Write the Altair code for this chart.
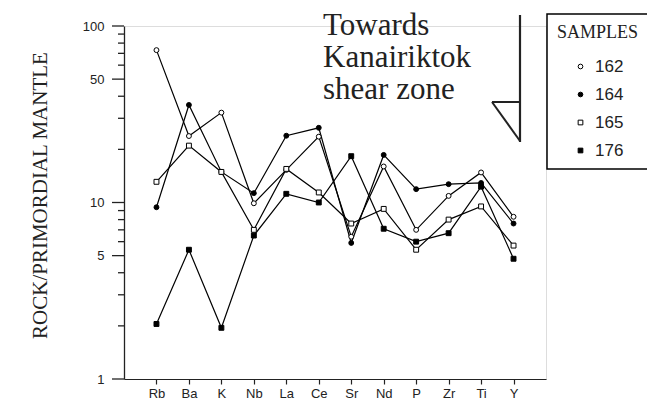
import altair as alt
import pandas as pd

elements = ["Rb", "Ba", "K", "Nb", "La", "Ce", "Sr", "Nd", "P", "Zr", "Ti", "Y"]
samples = ["162", "164", "165", "176"]
s162 = [73, 23.8, 32.3, 9.9, 15.3, 23.6, 6.4, 16.0, 7.0, 10.9, 14.8, 8.3]
s164 = [9.4, 35.7, 14.9, 11.3, 23.9, 26.5, 5.9, 18.6, 11.9, 12.7, 12.9, 7.6]
s165 = [13.1, 21.0, 14.9, 7.0, 15.5, 11.4, 7.6, 9.2, 5.4, 8.0, 9.5, 5.7]
s176 = [2.05, 5.4, 1.95, 6.5, 11.2, 10.0, 18.3, 7.1, 6.0, 6.7, 12.3, 4.8]
y_labeled = [1, 5, 10, 50, 100]
y_minor = [2, 3, 4, 6, 7, 8, 9, 20, 30, 40, 60, 70, 80, 90]
annotation = "Towards\nKanairiktok\nshear zone"

rows = []
for s, vals in zip(samples, [s162, s164, s165, s176]):
    for i, (e, v) in enumerate(zip(elements, vals)):
        rows.append({"sample": s, "element": e, "idx": i, "value": v})
df = pd.DataFrame(rows)

x = alt.X(
    "element:N", sort=elements,
    scale=alt.Scale(type="point", padding=1),
    axis=alt.Axis(title=None, labelAngle=0, labelFont="Liberation Sans", labelFontSize=13,
                  labelColor="#222", tickSize=5, tickColor="#222", domainColor="#222",
                  labelPadding=3, domainWidth=1.2, tickWidth=1.2, grid=False),
)
yscale = alt.Scale(type="log", domain=[1, 100], nice=False)
y = alt.Y(
    "value:Q", scale=yscale,
    axis=alt.Axis(
        values=y_labeled, format="d", grid=False, ticks=False,
        labelPadding=20, labelFont="Liberation Sans", labelFontSize=13,
        labelColor="#222", domainColor="#222", domainWidth=1.3,
        title="ROCK/PRIMORDIAL MANTLE", titleFont="Liberation Serif", titleFontSize=21,
        titleFontWeight="normal", titleColor="#222", titleAngle=-90,
        titleX=-84, titleY=169, titleAlign="center", titleBaseline="middle",
    ),
)

leg = alt.Legend(
    title="SAMPLES", orient="none", legendX=423, legendY=-12,
    titleFont="Liberation Serif", titleFontSize=18, titleFontWeight="normal", titleColor="#222",
    titlePadding=16, labelFont="Liberation Sans", labelFontSize=17, labelColor="#222",
    symbolSize=22, symbolStrokeWidth=1,
    symbolOffset=15, labelOffset=6, rowPadding=10,
    strokeColor="black", fillColor="white", padding=10,
)

lines = alt.Chart(df).mark_line(color="black", strokeWidth=1.2).encode(
    x=x, y=y, detail="sample:N", order="idx:Q"
)
points = alt.Chart(df).mark_point(filled=True, strokeWidth=1, size=24, opacity=1).encode(
    x=x, y=y,
    shape=alt.Shape("sample:N", scale=alt.Scale(domain=samples, range=["circle", "circle", "square", "square"]), legend=leg),
    fill=alt.Fill("sample:N", scale=alt.Scale(domain=samples, range=["white", "black", "white", "black"]), legend=leg),
    stroke=alt.Stroke("sample:N", scale=alt.Scale(domain=samples, range=["black", "black", "black", "black"]), legend=leg),
)

# major ticks (long) and minor ticks (short), left of the axis line
major_ticks = alt.Chart(pd.DataFrame({"v": y_labeled})).mark_rule(color="#222", strokeWidth=1.3).encode(
    y=alt.Y("v:Q", scale=yscale), x=alt.value(-12), x2=alt.value(0)
)
minor_ticks = alt.Chart(pd.DataFrame({"v": y_minor})).mark_rule(color="#222", strokeWidth=1.3).encode(
    y=alt.Y("v:Q", scale=yscale), x=alt.value(-6), x2=alt.value(0)
)

one = pd.DataFrame({"t": [annotation]})
text = alt.Chart(one).mark_text(
    align="left", baseline="alphabetic", lineBreak="\n", lineHeight=32,
    font="Liberation Serif", fontSize=31, color="#222"
).encode(text="t:N", x=alt.value(199), y=alt.value(9))

r1 = alt.Chart(one).mark_rule(color="#222", strokeWidth=2.2).encode(
    x=alt.value(396), y=alt.value(-11), y2=alt.value(116))
r2 = alt.Chart(one).mark_rule(color="#222", strokeWidth=2).encode(
    x=alt.value(368), x2=alt.value(396), y=alt.value(76))
r3 = alt.Chart(one).mark_rule(color="#222", strokeWidth=2).encode(
    x=alt.value(368), x2=alt.value(396), y=alt.value(76), y2=alt.value(115))

chart = alt.layer(major_ticks, minor_ticks, lines, points, text, r1, r2, r3).properties(
    width=422, height=353,
    autosize=alt.AutoSizeParams(type="none"),
    padding={"left": 124, "top": 26, "right": 101, "bottom": 31},
).configure_view(stroke=None).configure(background="white").configure_legend(
    strokeWidth=1.5, cornerRadius=0
)

chart.save("out.html", embed_options={"renderer": "svg", "actions": False})
